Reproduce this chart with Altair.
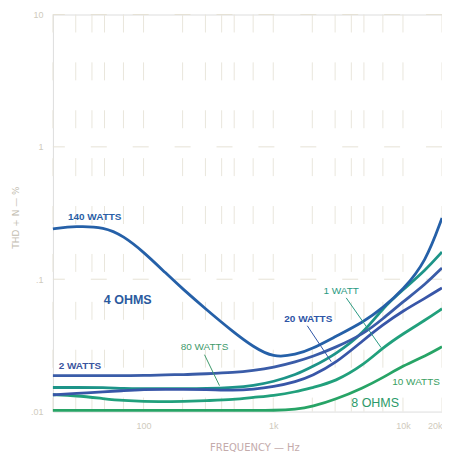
import altair as alt
import pandas as pd

# Frequency points (Hz)
freq = [20, 30, 50, 70, 100, 150, 200, 300, 500, 700, 1000, 1500, 2000,
        3000, 5000, 7000, 10000, 15000, 20000]

# THD+N (%)
w140_4ohm = [0.240, 0.252, 0.248, 0.212, 0.161, 0.110, 0.0846, 0.0598, 0.0394, 0.0309,
             0.0255, 0.0269, 0.0298, 0.0368, 0.0477, 0.0608, 0.0831, 0.135, 0.290]
w2_4ohm = [0.0187, 0.0187, 0.0187, 0.0187, 0.0187, 0.0190, 0.0190, 0.0193, 0.0197, 0.0204,
           0.0215, 0.0238, 0.0260, 0.0304, 0.0387, 0.0502, 0.0675, 0.0922, 0.1218]
w20_4ohm = [0.0134, 0.0137, 0.0141, 0.0144, 0.0147, 0.0147, 0.0147, 0.0147, 0.0144, 0.0147,
            0.0154, 0.0168, 0.0187, 0.0230, 0.0349, 0.0453, 0.0577, 0.0723, 0.0860]
w80_8ohm = [0.0152, 0.0152, 0.0152, 0.0149, 0.0149, 0.0149, 0.0149, 0.0149, 0.0152, 0.0157,
            0.0168, 0.0190, 0.0218, 0.0269, 0.0394, 0.0608, 0.0831, 0.1176, 0.1608]
w1_8ohm = [0.0134, 0.0132, 0.0125, 0.0121, 0.0119, 0.0119, 0.0119, 0.0121, 0.0123, 0.0128,
           0.0132, 0.0141, 0.0152, 0.0168, 0.0226, 0.0304, 0.0387, 0.0494, 0.0598]
w10_8ohm = [0.0102, 0.0102, 0.0102, 0.0102, 0.0102, 0.0102, 0.0102, 0.0102, 0.0102, 0.0102,
            0.0102, 0.0104, 0.0109, 0.0123, 0.0152, 0.0180, 0.0222, 0.0264, 0.0309]

series_names = ["10 W 8 Ω", "1 W 8 Ω", "80 W 8 Ω", "20 W 4 Ω", "2 W 4 Ω", "140 W 4 Ω"]
series_values = [w10_8ohm, w1_8ohm, w80_8ohm, w20_4ohm, w2_4ohm, w140_4ohm]
series_colors = ["#27a466", "#21a07c", "#1d9488", "#3856a8", "#3a5ca8", "#2560a8"]

# Grid positions
grid_freqs = [20, 30, 40, 50, 70, 100, 200, 300, 400, 500, 700,
              1000, 2000, 3000, 4000, 5000, 7000, 10000, 20000]
grid_levels = [10, 1, 0.1]

# Curve labels
label_text = ["140 WATTS", "4 OHMS", "2 WATTS", "80 WATTS", "20 WATTS", "1 WATT", "10 WATTS", "8 OHMS"]
label_freq = [42, 75.5, 32.3, 295, 1863, 3342, 12619, 6105]
label_thd = [0.295, 0.0699, 0.0222, 0.0309, 0.0502, 0.0817, 0.0168, 0.0117]
label_color = ["#2a5fa6", "#2a5a9e", "#3a55a0", "#3f9a6c", "#2e55a6", "#2a9a82", "#3aa062", "#2a9a6a"]
label_size = [10, 12.5, 10, 10, 10, 10, 10, 12.5]
label_weight = ["bold", "bold", "bold", "normal", "bold", "normal", "normal", "normal"]

# Leader lines (label -> curve)
lead_f1 = [295, 1830, 3652]
lead_t1 = [0.0269, 0.0445, 0.0723]
lead_f2 = [385, 2800, 6790]
lead_t2 = [0.0157, 0.0238, 0.0304]
lead_color = ["#3f9a6c", "#2e55a6", "#2a9a82"]

rows = []
for name, vals in zip(series_names, series_values):
    for f, v in zip(freq, vals):
        rows.append({"freq": f, "thd": v, "series": name})
df = pd.DataFrame(rows)

xs = alt.Scale(type="log", domain=[20, 20000], nice=False)
ys = alt.Scale(type="log", domain=[0.01, 10], nice=False)

x_axis = alt.Axis(values=[100, 1000, 10000, 20000],
                  labelExpr="datum.value >= 1000 ? (datum.value/1000) + 'k' : datum.value",
                  domain=False, ticks=False, grid=False,
                  labelColor="#cfcabd", labelFontSize=9, labelPadding=10,
                  title="FREQUENCY — Hz", titleColor="#c4abab", titleFontSize=10,
                  titleFontWeight="normal", titleFont="DejaVu Sans",
                  titleX=202, titleY=36, titleAlign="center", titleBaseline="middle")
y_axis = alt.Axis(values=[0.01, 0.1, 1, 10],
                  labelExpr="datum.value >= 1 ? datum.value + '' : (datum.value == 0.1 ? '.1' : '.01')",
                  domain=False, ticks=False, grid=False,
                  labelColor="#cfcabd", labelFontSize=9, labelPadding=10,
                  title="THD + N — %", titleColor="#c2bdb0", titleFontSize=9,
                  titleFontWeight="normal", titleFont="DejaVu Sans",
                  titleX=-37, titleY=203, titleAngle=270,
                  titleAlign="center", titleBaseline="middle")

vgrid = alt.Chart(pd.DataFrame({"freq": grid_freqs})).mark_rule(
    color="#e9e6dc", strokeWidth=1, strokeDash=[18, 30]
).encode(x=alt.X("freq:Q", scale=xs, axis=x_axis))

hgrid = alt.Chart(pd.DataFrame({"thd": grid_levels})).mark_rule(
    color="#e6e2d6", strokeWidth=1, strokeDash=[16, 26]
).encode(y=alt.Y("thd:Q", scale=ys, axis=y_axis))

lines = alt.Chart(df).mark_line(interpolate="basis", strokeWidth=2.8).encode(
    x=alt.X("freq:Q", scale=xs, axis=x_axis),
    y=alt.Y("thd:Q", scale=ys, axis=y_axis),
    color=alt.Color("series:N", scale=alt.Scale(domain=series_names, range=series_colors), legend=None),
    order=alt.Order("freq:Q"),
)

lead_df = pd.DataFrame({"f1": lead_f1, "t1": lead_t1, "f2": lead_f2, "t2": lead_t2, "c": lead_color})
leads = alt.Chart(lead_df).mark_rule(strokeWidth=1).encode(
    x=alt.X("f1:Q", scale=xs, axis=x_axis), x2="f2:Q",
    y=alt.Y("t1:Q", scale=ys, axis=y_axis), y2="t2:Q",
    color=alt.Color("c:N", scale=None),
)

lab_df = pd.DataFrame({"text": label_text, "freq": label_freq, "thd": label_thd,
                       "c": label_color, "s": label_size, "w": label_weight})
labels_bold = alt.Chart(lab_df[lab_df["w"] == "bold"]).mark_text(
    font="Liberation Sans", fontWeight="bold", align="center", baseline="middle"
).encode(
    x=alt.X("freq:Q", scale=xs, axis=x_axis),
    y=alt.Y("thd:Q", scale=ys, axis=y_axis),
    text="text:N",
    color=alt.Color("c:N", scale=None),
    size=alt.Size("s:Q", scale=None),
)
labels_norm = alt.Chart(lab_df[lab_df["w"] == "normal"]).mark_text(
    font="Liberation Sans", align="center", baseline="middle"
).encode(
    x=alt.X("freq:Q", scale=xs, axis=x_axis),
    y=alt.Y("thd:Q", scale=ys, axis=y_axis),
    text="text:N",
    color=alt.Color("c:N", scale=None),
    size=alt.Size("s:Q", scale=None),
)

chart = alt.layer(vgrid, hgrid, lines, leads, labels_bold, labels_norm).properties(
    width=390, height=398,
    autosize=alt.AutoSizeParams(type="none"),
    padding={"left": 45, "top": 6, "right": 0, "bottom": 40},
).configure_view(stroke=None).configure(background="white")

chart.save("out.html", embed_options={"renderer": "svg", "actions": False})
